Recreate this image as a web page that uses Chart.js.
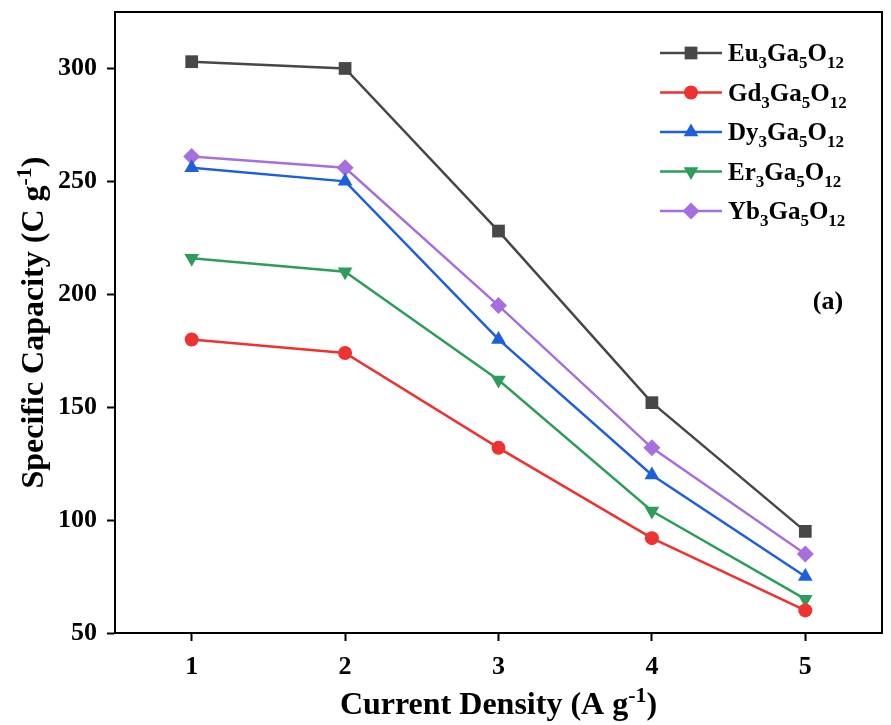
<!DOCTYPE html>
<html>
<head>
<meta charset="utf-8">
<script src="https://cdn.jsdelivr.net/npm/chart.js@4"></script>
<style>
  html, body { margin: 0; padding: 0; background: #fff; }
  #wrap { width: 891px; height: 725px; }
</style>
</head>
<body>
<div id="wrap"><canvas id="c" width="891" height="725"></canvas></div>
<script>
// ---- Data ----
const currentDensity = [1, 2, 3, 4, 5];
const seriesNames = ["Eu3Ga5O12", "Gd3Ga5O12", "Dy3Ga5O12", "Er3Ga5O12", "Yb3Ga5O12"];
const euValues = [303, 300, 228, 152, 95];
const gdValues = [180, 174, 132, 92, 60];
const dyValues = [256, 250, 180, 120, 75];
const erValues = [216, 210, 162, 104, 65];
const ybValues = [261, 256, 195, 132, 85];
const yTickValues = [50, 100, 150, 200, 250, 300];
const xTickValues = [1, 2, 3, 4, 5];
const xTitle = "Current Density (A g-1)";
const yTitle = "Specific Capacity (C g-1)";
const panelLabel = "(a)";

// ---- Styles ----
const FONT = '"Liberation Serif", "Times New Roman", serif';
const colors = ["#474747", "#ee3131", "#1e5fdc", "#2e9d5c", "#a56fdd"];
const pointStyles = ["rect", "circle", "triangle", "triangle", "rectRot"];
const pointRotations = [0, 0, 0, 180, 0];
const pointRadii = [9, 7, 8.5, 8.5, 8.5];
const allValues = [euValues, gdValues, dyValues, erValues, ybValues];

const datasets = seriesNames.map((name, i) => ({
  label: name,
  data: currentDensity.map((x, j) => ({ x: x, y: allValues[i][j] })),
  borderColor: colors[i],
  backgroundColor: colors[i],
  borderWidth: 2.5,
  pointStyle: pointStyles[i],
  rotation: pointRotations[i],
  pointRadius: pointRadii[i],
  pointHoverRadius: pointRadii[i],
  pointBorderWidth: 0,
  tension: 0
}));

function parseChem(name) {
  const segs = [];
  let cur = "", curMode = null;
  for (const ch of name) {
    const m = /[0-9]/.test(ch) ? "sub" : "n";
    if (m !== curMode && cur) { segs.push({ t: cur, mode: curMode }); cur = ""; }
    cur += ch; curMode = m;
  }
  if (cur) segs.push({ t: cur, mode: curMode });
  return segs;
}
function parseSup(text) {
  const idx = text.indexOf("-1");
  return [
    { t: text.slice(0, idx), mode: "n" },
    { t: "-1", mode: "sup" },
    { t: text.slice(idx + 2), mode: "n" }
  ];
}
function segFont(mode, size) {
  const s = mode === "n" ? size : Math.round(size * 0.68);
  return "bold " + s + "px " + FONT;
}
function measureSegs(ctx, segs, size) {
  let w = 0;
  for (const s of segs) { ctx.font = segFont(s.mode, size); w += ctx.measureText(s.t).width; }
  return w;
}
function drawSegs(ctx, segs, x, y, size) {
  let cx = x;
  for (const s of segs) {
    ctx.font = segFont(s.mode, size);
    let dy = 0;
    if (s.mode === "sub") dy = size * 0.28;
    if (s.mode === "sup") dy = -size * 0.38;
    ctx.fillText(s.t, cx, y + dy);
    cx += ctx.measureText(s.t).width;
  }
}

const decorPlugin = {
  id: "decor",
  afterDraw(chart) {
    const ctx = chart.ctx;
    const a = chart.chartArea;
    ctx.save();
    ctx.strokeStyle = "#000";
    ctx.lineWidth = 2;
    ctx.strokeRect(a.left, a.top, a.right - a.left, a.bottom - a.top);

    ctx.fillStyle = "#000";
    ctx.textBaseline = "alphabetic";
    ctx.textAlign = "left";

    const xs = parseSup(xTitle);
    const xSize = 32;
    const xw = measureSegs(ctx, xs, xSize);
    drawSegs(ctx, xs, (a.left + a.right) / 2 - xw / 2, 714, xSize);

    const ys = parseSup(yTitle);
    const ySize = 32;
    const yw = measureSegs(ctx, ys, ySize);
    ctx.save();
    ctx.translate(43, (a.top + a.bottom) / 2);
    ctx.rotate(-Math.PI / 2);
    drawSegs(ctx, ys, -yw / 2, 0, ySize);
    ctx.restore();

    ctx.font = "bold 26px " + FONT;
    ctx.textAlign = "center";
    ctx.fillText(panelLabel, 828, 309);
    ctx.textAlign = "left";

    const rowY0 = 53, rowStep = 39.5;
    chart.data.datasets.forEach((ds, i) => {
      const y = rowY0 + i * rowStep;
      ctx.strokeStyle = ds.borderColor;
      ctx.lineWidth = 2.5;
      ctx.beginPath();
      ctx.moveTo(660, y);
      ctx.lineTo(722, y);
      ctx.stroke();
      ctx.fillStyle = ds.backgroundColor;
      ctx.strokeStyle = ds.borderColor;
      Chart.helpers.drawPoint(ctx, {
        pointStyle: ds.pointStyle,
        rotation: ds.rotation,
        radius: ds.pointRadius,
        borderWidth: 0
      }, 691, y);
      ctx.fillStyle = "#000";
      drawSegs(ctx, parseChem(ds.label), 728, y + 8, 25);
    });
    ctx.restore();
  }
};

new Chart(document.getElementById("c"), {
  type: "line",
  data: { datasets: datasets },
  options: {
    responsive: false,
    animation: false,
    events: [],
    layout: { padding: { top: 12, right: 1, left: 0, bottom: 0 } },
    plugins: { legend: { display: false }, tooltip: { enabled: false } },
    scales: {
      x: {
        type: "linear",
        min: 0.5,
        max: 5.5,
        afterFit(scale) { scale.height = 92; scale.paddingLeft = 0; scale.paddingRight = 0; },
        afterBuildTicks(scale) { scale.ticks = xTickValues.map(v => ({ value: v })); },
        ticks: {
          includeBounds: false,
          color: "#000",
          font: { family: FONT, size: 26, weight: "bold" },
          padding: 11,
          maxRotation: 0
        },
        grid: { drawOnChartArea: false, drawTicks: true, tickLength: 8, tickColor: "#000", tickWidth: 2 },
        border: { display: true, color: "#000", width: 2 }
      },
      y: {
        type: "linear",
        min: 50,
        max: 325,
        afterFit(scale) { scale.width = 115; scale.paddingTop = 0; scale.paddingBottom = 0; },
        afterBuildTicks(scale) { scale.ticks = yTickValues.map(v => ({ value: v })); },
        ticks: {
          includeBounds: false,
          color: "#000",
          font: { family: FONT, size: 26, weight: "bold" },
          padding: 10
        },
        grid: { drawOnChartArea: false, drawTicks: true, tickLength: 8, tickColor: "#000", tickWidth: 2 },
        border: { display: true, color: "#000", width: 2 }
      }
    }
  },
  plugins: [decorPlugin]
});
</script>
</body>
</html>
